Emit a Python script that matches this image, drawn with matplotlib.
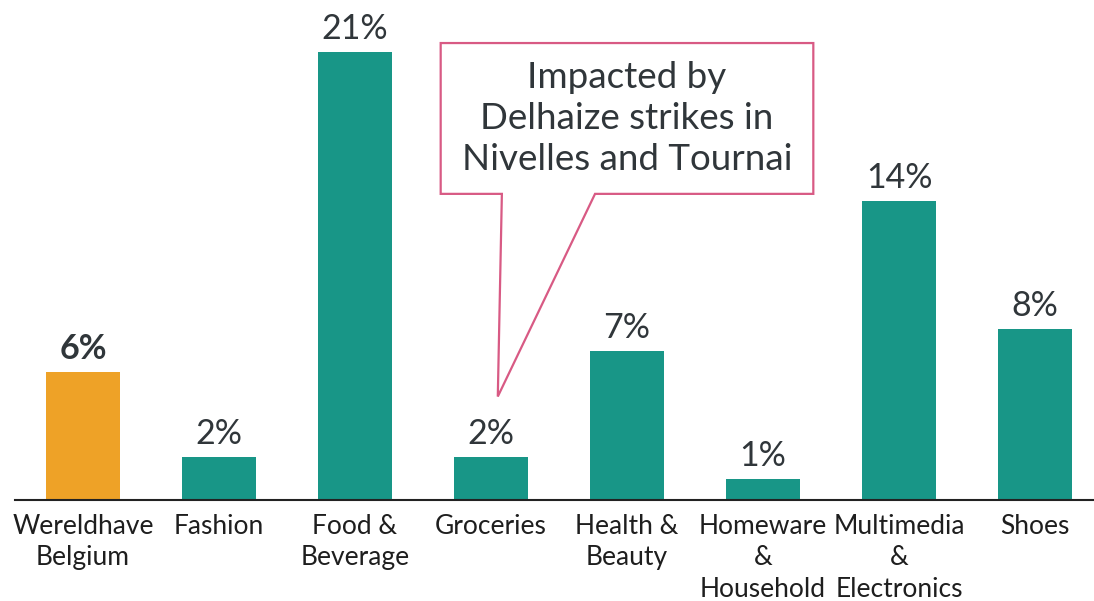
import matplotlib.pyplot as plt
from matplotlib.patches import Polygon

# share of footfall change by retail segment
categories = ['Wereldhave\nBelgium', 'Fashion', 'Food &\nBeverage', 'Groceries',
              'Health &\nBeauty', 'Homeware\n&\nHousehold', 'Multimedia\n&\nElectronics', 'Shoes']
values = [6, 2, 21, 2, 7, 1, 14, 8]
note = 'Impacted by\nDelhaize strikes in\nNivelles and Tournai'
note_idx = 3  # Groceries

ORANGE = '#EEA227'
TEAL = '#189687'
PINK = '#D85A84'
TXT = '#30363a'

plt.rcParams['font.family'] = ['Lato', 'DejaVu Sans']

fig = plt.figure(figsize=(10.94, 6.01), dpi=100)
ax = fig.add_axes([15 / 1094, 101 / 601, 1088 / 1094, 500 / 601])

colors = [ORANGE] + [TEAL] * (len(values) - 1)
x = list(range(len(values)))
ax.bar(x, values, width=0.55, color=colors)

for i, v in enumerate(values):
    ax.annotate(f'{v}%', (i, v), xytext=(0, 5), textcoords='offset points',
                ha='center', va='bottom', fontsize=24.5, color=TXT,
                fontweight='bold' if i == 0 else 'normal')

ax.set_xlim(-0.5, 7.5)
ax.set_ylim(0, 500 * 21 / 448)
ax.set_xticks(x)
ax.set_xticklabels(categories, fontsize=19, color='#1e1e1e', linespacing=1.33)
ax.tick_params(axis='x', length=0, pad=10)
ax.set_yticks([])
for s in ['top', 'left', 'right']:
    ax.spines[s].set_visible(False)
ax.spines['bottom'].set_color('#222222')
ax.spines['bottom'].set_linewidth(1.5)

# speech-bubble callout pointing at the groceries bar
box_l, box_r, box_t, box_b = 2.63, 5.37, 21.42, 14.35
tip = (note_idx + 0.05, values[note_idx] + 2.85)
bubble = [(box_l, box_t), (box_r, box_t), (box_r, box_b), (3.765, box_b),
          tip, (3.08, box_b), (box_l, box_b)]
ax.add_patch(Polygon(bubble, closed=True, facecolor='white', edgecolor=PINK,
                     linewidth=1.6, clip_on=False, zorder=3))
ax.text((box_l + box_r) / 2, (box_t + box_b) / 2, note, ha='center', va='center',
        fontsize=26.5, color=TXT, linespacing=1.3, zorder=4)

fig.savefig('out.png', dpi=100)
